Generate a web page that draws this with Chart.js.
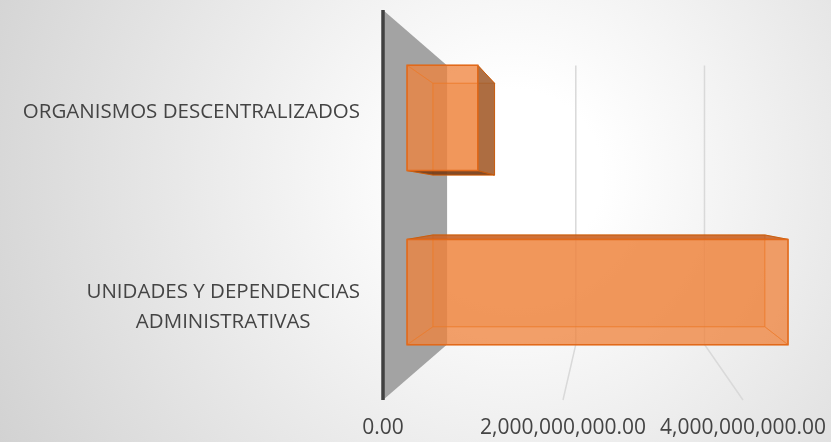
<!DOCTYPE html>
<html>
<head>
<meta charset="utf-8">
<script src="https://cdn.jsdelivr.net/npm/chart.js@4.4.1/dist/chart.umd.min.js"></script>
<style>
  html, body { margin: 0; padding: 0; overflow: hidden; }
  body {
    width: 831px; height: 442px;
    background: radial-gradient(circle farthest-corner at 62% 40%, #ffffff 0%, #ffffff 15%, #d2d2d2 100%);
  }
  canvas { display: block; }
</style>
</head>
<body>
<canvas id="chart" width="831" height="442"></canvas>
<script>
// data, top to bottom as shown
const categories = [['ORGANISMOS DESCENTRALIZADOS'], ['UNIDADES Y DEPENDENCIAS', 'ADMINISTRATIVAS']];
const amounts = [880000000, 4740000000];
const tickValues = [0, 2000000000, 4000000000];
const axisMax = 4900000000;

const FONT = "'Open Sans', sans-serif";
const TEXT = '#444444';

// fake perspective: depth factors toward a vanishing point in the plot
const WALL = 0.715;
const BAR_FRONT = 0.893;
const BAR_BACK = 0.778;

function vanish(a) {
    return [a.left + a.width * 0.51, a.top + a.height * 0.5];
}

function project(a, x, y, f) {
    const [vx, vy] = vanish(a);
    return [vx + (x - vx) * f, vy + (y - vy) * f];
}

function poly(ctx, pts) {
    ctx.beginPath();
    ctx.moveTo(pts[0][0], pts[0][1]);
    for (let i = 1; i < pts.length; i++) ctx.lineTo(pts[i][0], pts[i][1]);
    ctx.closePath();
}

function drawBox(ctx, a, xs, xe, yt, yb) {
    const [vx, vy] = vanish(a);
    const F = (px, py) => project(a, px, py, BAR_FRONT);
    const B = (px, py) => project(a, px, py, BAR_BACK);

    const back = [B(xs, yt), B(xe, yt), B(xe, yb), B(xs, yb)];
    const front = [F(xs, yt), F(xe, yt), F(xe, yb), F(xs, yb)];
    const sides = [
        { pts: [F(xs, yt), F(xe, yt), B(xe, yt), B(xs, yt)], out: yt > vy, dark: 'rgba(200,100,40,0.85)' },
        { pts: [F(xs, yb), F(xe, yb), B(xe, yb), B(xs, yb)], out: yb < vy, dark: 'rgba(110,55,20,0.85)' },
        { pts: [F(xs, yt), F(xs, yb), B(xs, yb), B(xs, yt)], out: xs > vx, dark: 'rgba(150,80,35,0.85)' },
        { pts: [F(xe, yt), F(xe, yb), B(xe, yb), B(xe, yt)], out: xe < vx, dark: 'rgba(160,95,50,0.85)' }
    ];

    ctx.fillStyle = 'rgba(237,125,49,0.5)';
    ctx.strokeStyle = 'rgba(228,108,10,0.55)';
    ctx.lineWidth = 1;
    poly(ctx, back); ctx.fill(); ctx.stroke();

    sides.filter(s => !s.out).forEach(s => {
        ctx.fillStyle = 'rgba(237,125,49,0.3)';
        poly(ctx, s.pts); ctx.fill(); ctx.stroke();
    });
    sides.filter(s => s.out).forEach(s => {
        ctx.fillStyle = s.dark;
        ctx.strokeStyle = 'rgba(200,90,10,0.9)';
        poly(ctx, s.pts); ctx.fill(); ctx.stroke();
    });

    ctx.fillStyle = 'rgba(240,130,60,0.65)';
    ctx.strokeStyle = '#e2691a';
    ctx.lineWidth = 1.5;
    poly(ctx, front); ctx.fill(); ctx.stroke();
}

const depthPlugin = {
    id: 'depth',
    beforeDatasetsDraw(chart) {
        const { ctx, chartArea: a, scales: { x } } = chart;
        const x0 = x.getPixelForValue(0);
        ctx.save();

        // side wall behind the value axis
        ctx.fillStyle = '#a3a3a3';
        poly(ctx, [[x0, a.top], project(a, x0, a.top, WALL), project(a, x0, a.bottom, WALL), [x0, a.bottom]]);
        ctx.fill();

        // gridlines: up the back wall, then across the floor
        ctx.strokeStyle = '#d9d9d9';
        ctx.lineWidth = 1.5;
        tickValues.filter(v => v > 0).forEach(v => {
            const px = x.getPixelForValue(v);
            const p1 = project(a, px, a.top, WALL);
            const p2 = project(a, px, a.bottom, WALL);
            ctx.beginPath();
            ctx.moveTo(p1[0], p1[1]);
            ctx.lineTo(p2[0], p2[1]);
            ctx.lineTo(px, a.bottom);
            ctx.stroke();
        });

        ctx.strokeStyle = '#404040';
        ctx.lineWidth = 3.5;
        ctx.beginPath();
        ctx.moveTo(x0, a.top);
        ctx.lineTo(x0, a.bottom);
        ctx.stroke();
        ctx.restore();
    },
    afterDatasetsDraw(chart) {
        const { ctx, chartArea: a } = chart;
        ctx.save();
        chart.getDatasetMeta(0).data.forEach(bar => {
            const { x, y, base, height } = bar.getProps(['x', 'y', 'base', 'height'], true);
            drawBox(ctx, a, base, x, y - height / 2, y + height / 2);
        });
        ctx.restore();
    },
    afterDraw(chart) {
        // category labels: each block right aligned, its lines centred
        const { ctx, scales: { y } } = chart;
        ctx.save();
        ctx.font = "20.5px " + FONT;
        ctx.fillStyle = TEXT;
        ctx.textAlign = 'center';
        ctx.textBaseline = 'middle';
        const right = 360, lh = 30.5;
        categories.forEach((lines, i) => {
            const w = Math.max(...lines.map(l => ctx.measureText(l).width));
            const cy = y.getPixelForValue(i) + 4.5;
            lines.forEach((l, j) => {
                ctx.fillText(l, right - w / 2, cy + (j - (lines.length - 1) / 2) * lh);
            });
        });
        ctx.restore();
    }
};

new Chart(document.getElementById('chart'), {
    type: 'bar',
    data: {
        labels: categories,
        datasets: [{
            data: amounts,
            backgroundColor: 'transparent',
            borderWidth: 0,
            barPercentage: 0.605,
            categoryPercentage: 1
        }]
    },
    options: {
        indexAxis: 'y',
        responsive: false,
        animation: false,
        // the tick row hangs a little below the canvas box so its text sits low
        layout: { padding: { left: 383, top: 10, right: 7, bottom: -15 } },
        plugins: { legend: { display: false }, tooltip: { enabled: false } },
        scales: {
            x: {
                min: 0,
                max: axisMax,
                grid: { display: false, drawTicks: false },
                border: { display: false },
                afterBuildTicks: scale => {
                    scale.ticks = tickValues.map(v => ({ value: v }));
                },
                ticks: {
                    padding: 0,
                    autoSkip: false,
                    maxRotation: 0,
                    minRotation: 0,
                    color: TEXT,
                    font: { family: FONT, size: 21, lineHeight: '57px' },
                    callback: v => Number(v).toLocaleString('en-US', { minimumFractionDigits: 2, maximumFractionDigits: 2 })
                }
            },
            y: { display: false }
        }
    },
    plugins: [depthPlugin]
});
</script>
</body>
</html>
